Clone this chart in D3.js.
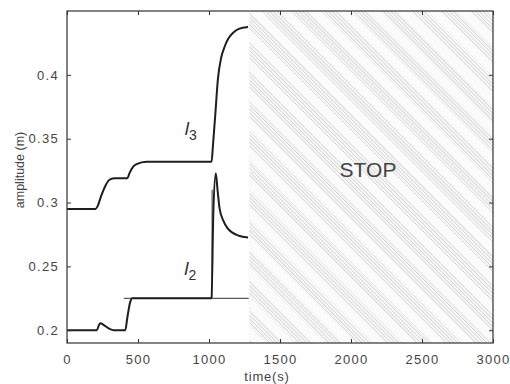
<!DOCTYPE html>
<html><head><meta charset="utf-8">
<script src="https://cdn.jsdelivr.net/npm/d3@7"></script>
<style>body{margin:0;background:#fff}svg{display:block}</style>
</head><body>
<svg id="c" width="510" height="384"></svg>
<script>
const xTicks = [0, 500, 1000, 1500, 2000, 2500, 3000];
const yTicks = [0.2, 0.25, 0.3, 0.35, 0.4];
const l3Time = [0, 200, 215, 240, 270, 300, 340, 425, 440, 465, 490, 560, 1018, 1028, 1045, 1063, 1085, 1110, 1134, 1170, 1210, 1275];
const l3Val  = [0.295, 0.295, 0.297, 0.305, 0.313, 0.318, 0.319, 0.319, 0.323, 0.328, 0.330, 0.332, 0.332, 0.345, 0.370, 0.397, 0.413, 0.422, 0.428, 0.433, 0.436, 0.4375];
const l2Time = [0, 210, 225, 235, 260, 300, 330, 410, 425, 445, 460, 1018, 1030, 1048, 1060, 1075, 1100, 1130, 1162, 1210, 1275];
const l2Val  = [0.2, 0.2, 0.204, 0.2055, 0.204, 0.201, 0.2, 0.2, 0.21, 0.222, 0.225, 0.225, 0.29, 0.323, 0.31, 0.295, 0.286, 0.280, 0.2766, 0.274, 0.2727];
const refTime = [400, 1280];
const refVal = [0.225, 0.225];
const spikeTime = [1022, 1022];
const spikeVal = [0.225, 0.31];
const stopRange = [1285, 3000];

const svg = d3.select("#c");
const m = {l: 67, r: 17, t: 11, b: 41};
const W = 510, H = 384;
const x = d3.scaleLinear().domain([0, 3000]).range([m.l, W - m.r]);
const y = d3.scaleLinear().domain([0.19, 0.45]).range([H - m.b, m.t]);

const defs = svg.append("defs");
const p1 = defs.append("pattern").attr("id", "hatch").attr("patternUnits", "userSpaceOnUse")
  .attr("width", 2.6).attr("height", 10).attr("patternTransform", "rotate(-45)");
p1.append("line").attr("x1", 0.6).attr("y1", 0).attr("x2", 0.6).attr("y2", 10)
  .attr("stroke", "#999").attr("stroke-width", 0.7);
const p2 = defs.append("pattern").attr("id", "band").attr("patternUnits", "userSpaceOnUse")
  .attr("width", 21).attr("height", 10).attr("patternTransform", "rotate(-45)");
p2.append("rect").attr("x", 0).attr("y", 0).attr("width", 9).attr("height", 10).attr("fill", "#fff").attr("opacity", 0.8);

const font = "'Liberation Sans', Arial, sans-serif";

const sx = x(stopRange[0]), sw = x(stopRange[1]) - x(stopRange[0]), sy = y(0.45), sh = y(0.19) - y(0.45);
svg.append("rect").attr("x", sx).attr("y", sy).attr("width", sw).attr("height", sh).attr("fill", "url(#hatch)");
svg.append("rect").attr("x", sx).attr("y", sy).attr("width", sw).attr("height", sh).attr("fill", "url(#band)");
svg.append("rect").attr("x", sx).attr("y", sy).attr("width", sw).attr("height", sh).attr("fill", "#fff").attr("opacity", 0.3);

const lineL = d3.line().x(d => x(d[0])).y(d => y(d[1]));
const lineM = d3.line().x(d => x(d[0])).y(d => y(d[1])).curve(d3.curveMonotoneX);

svg.append("path").datum(d3.zip(refTime, refVal)).attr("d", lineL).attr("fill", "none").attr("stroke", "#333").attr("stroke-width", 1);
svg.append("path").datum(d3.zip(spikeTime, spikeVal)).attr("d", lineL).attr("fill", "none").attr("stroke", "#333").attr("stroke-width", 1);
svg.append("path").datum(d3.zip(l3Time, l3Val)).attr("d", lineM).attr("fill", "none").attr("stroke", "#1e1e1e").attr("stroke-width", 2);
svg.append("path").datum(d3.zip(l2Time, l2Val)).attr("d", lineM).attr("fill", "none").attr("stroke", "#1e1e1e").attr("stroke-width", 2);

svg.append("rect").attr("x", m.l).attr("y", m.t).attr("width", W - m.r - m.l).attr("height", H - m.b - m.t)
  .attr("fill", "none").attr("stroke", "#333").attr("stroke-width", 1.2);

function style(g, showText) {
  g.select(".domain").remove();
  g.selectAll("line").attr("stroke", "#333");
  g.selectAll("text").attr("font-family", font).attr("font-size", 13).attr("fill", "#444").attr("letter-spacing", 1.3);
  if (!showText) g.selectAll("text").remove();
}
svg.append("g").attr("transform", `translate(0,${H - m.b})`)
  .call(d3.axisBottom(x).tickValues(xTicks).tickSize(-4).tickPadding(12).tickFormat(d3.format("d"))).call(g => style(g, true));
svg.append("g").attr("transform", `translate(0,${m.t})`)
  .call(d3.axisTop(x).tickValues(xTicks).tickSize(-4)).call(g => style(g, false));
svg.append("g").attr("transform", `translate(${m.l},0)`)
  .call(d3.axisLeft(y).tickValues(yTicks).tickSize(-4).tickPadding(8).tickFormat(d => String(d))).call(g => style(g, true));
svg.append("g").attr("transform", `translate(${W - m.r},0)`)
  .call(d3.axisRight(y).tickValues(yTicks).tickSize(-4)).call(g => style(g, false));

svg.append("text").attr("x", 267).attr("y", 381).attr("text-anchor", "middle")
  .attr("font-family", font).attr("font-size", 13).attr("fill", "#444").attr("letter-spacing", 0.8).text("time(s)");
svg.append("text").attr("transform", "translate(24,170) rotate(-90)").attr("text-anchor", "middle")
  .attr("font-family", font).attr("font-size", 12.5).attr("fill", "#444").text("amplitude (m)");

function lab(px, py, sub) {
  const t = svg.append("text").attr("x", px).attr("y", py).attr("font-family", font).attr("fill", "#333");
  t.append("tspan").attr("font-size", 19).attr("font-style", "italic").text("l");
  t.append("tspan").attr("font-size", 14).attr("dy", 5).text(sub);
}
lab(x(830), y(0.353), "3");
lab(x(825), y(0.243), "2");

svg.append("text").attr("x", 368).attr("y", 177).attr("text-anchor", "middle")
  .attr("font-family", font).attr("font-size", 21).attr("fill", "#444").text("STOP");
</script>
</body></html>
